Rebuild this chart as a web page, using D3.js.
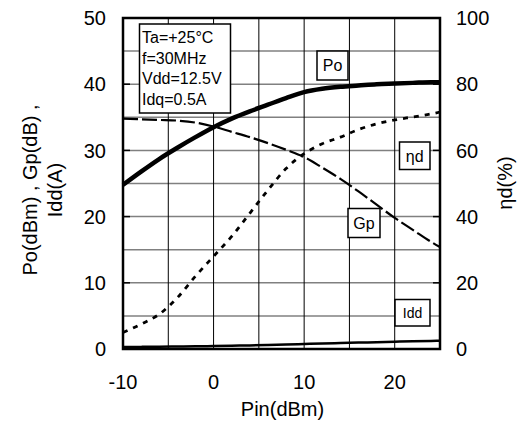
<!DOCTYPE html>
<html><head><meta charset="utf-8">
<script src="https://cdn.jsdelivr.net/npm/d3@7"></script>
<style>body{margin:0;background:#fff}svg{display:block}text{font-family:Arial,"Liberation Sans",sans-serif}</style>
</head><body><div id="c"></div>
<script>
const pin = [-10,-8,-6,-4,-2,0,2,4,6,8,10,12,14,16,18,20,22,24,25];
const po  = [24.8,26.8,28.7,30.4,32.0,33.5,34.8,35.9,36.9,37.9,38.8,39.3,39.6,39.8,40.0,40.1,40.2,40.3,40.3];
const gp  = [34.8,34.7,34.6,34.5,34.2,33.6,32.8,32.0,31.1,30.1,29.0,27.4,25.7,23.8,21.8,19.8,18.0,16.2,15.4];
const eta = [5,7.5,10.5,15.5,22,28,34,41,48,54.5,59,62,64,66.3,68,69.2,70.1,71,71.6];
const idd = [0.3,0.32,0.34,0.37,0.4,0.45,0.5,0.54,0.6,0.67,0.75,0.83,0.9,0.97,1.03,1.1,1.16,1.22,1.25];
const xTicks = [-10,0,10,20];
const yLeftTicks = [0,10,20,30,40,50];
const yRightTicks = [0,20,40,60,80,100];
const condText = ["Ta=+25°C","f=30MHz","Vdd=12.5V","Idq=0.5A"];

const W=525,H=427, L=123,R=440,T=18,B=349;
const svg=d3.select("#c").append("svg").attr("width",W).attr("height",H);
const x=d3.scaleLinear().domain([-10,25]).range([L,R]);
const y=d3.scaleLinear().domain([0,50]).range([B,T]);
const y2=d3.scaleLinear().domain([0,100]).range([B,T]);

// grid
const g=svg.append("g");
g.selectAll(".hg").data(d3.range(5,50,5)).join("line")
 .attr("x1",L).attr("x2",R).attr("y1",d=>y(d)).attr("y2",d=>y(d))
 .attr("stroke","#808080").attr("stroke-width",1.5);
g.selectAll(".vg").data(d3.range(-5,25,5)).join("line")
 .attr("y1",T).attr("y2",B).attr("x1",d=>x(d)).attr("x2",d=>x(d))
 .attr("stroke","#000").attr("stroke-width",1);
// inner ticks
g.selectAll(".lt").data(yLeftTicks).join("line")
 .attr("x1",L).attr("x2",L+7).attr("y1",d=>y(d)).attr("y2",d=>y(d)).attr("stroke","#000").attr("stroke-width",1.5);
g.selectAll(".rt").data(yRightTicks).join("line")
 .attr("x1",R-7).attr("x2",R).attr("y1",d=>y2(d)).attr("y2",d=>y2(d)).attr("stroke","#000").attr("stroke-width",1.5);

const line=(ys,sc)=>d3.line().x((d,i)=>x(pin[i])).y(d=>sc(d)).curve(d3.curveMonotoneX)(ys);
svg.append("path").attr("d",line(eta,y2)).attr("fill","none").attr("stroke","#000").attr("stroke-width",2.8).attr("stroke-dasharray","5,6");
svg.append("path").attr("d",line(gp,y)).attr("fill","none").attr("stroke","#000").attr("stroke-width",2.2).attr("stroke-dasharray","15,4");
svg.append("path").attr("d",line(idd,y)).attr("fill","none").attr("stroke","#000").attr("stroke-width",2.5);
svg.append("path").attr("d",line(po,y)).attr("fill","none").attr("stroke","#000").attr("stroke-width",4.5);

// border
svg.append("rect").attr("x",L).attr("y",T).attr("width",R-L).attr("height",B-T)
 .attr("fill","none").attr("stroke","#000").attr("stroke-width",2.5);

// axes labels
const fs=20;
svg.selectAll(".yl").data(yLeftTicks).join("text").attr("x",106).attr("y",d=>y(d)).attr("dy","0.36em")
 .attr("text-anchor","end").attr("font-size",fs).text(d=>d);
svg.selectAll(".yr").data(yRightTicks).join("text").attr("x",456).attr("y",d=>y2(d)).attr("dy","0.36em")
 .attr("text-anchor","start").attr("font-size",fs).text(d=>d);
svg.selectAll(".xl").data(xTicks).join("text").attr("x",d=>x(d)).attr("y",389)
 .attr("text-anchor","middle").attr("font-size",fs).text(d=>d);
svg.append("text").attr("x",(L+R)/2+1).attr("y",416).attr("text-anchor","middle").attr("font-size",fs).text("Pin(dBm)");
svg.append("text").attr("transform","translate(37,190) rotate(-90)").attr("text-anchor","middle").attr("font-size",fs).text("Po(dBm) , Gp(dB) ,");
svg.append("text").attr("transform","translate(62,190) rotate(-90)").attr("text-anchor","middle").attr("font-size",fs).text("Idd(A)");
svg.append("text").attr("transform","translate(512,183) rotate(-90)").attr("text-anchor","middle").attr("font-size",fs).text("ηd(%)");

// condition box
svg.append("rect").attr("x",139.5).attr("y",24).attr("width",91).attr("height",89).attr("fill","#fff").attr("stroke","#000").attr("stroke-width",1.5);
svg.selectAll(".ct").data(condText).join("text").attr("x",142).attr("y",(d,i)=>43+i*20.7).attr("font-size",16).text(d=>d);

// series label boxes
const labels=[
 {t:"Po",x:317,y:51,w:31,h:29,fs:16},
 {t:"ηd",x:399.5,y:142,w:30.5,h:27.5,fs:16},
 {t:"Gp",x:348,y:208.5,w:32,h:29,fs:16},
 {t:"Idd",x:395,y:299.5,w:35,h:26.5,fs:14}
];
const lg=svg.selectAll(".lb").data(labels).join("g");
lg.append("rect").attr("x",d=>d.x).attr("y",d=>d.y).attr("width",d=>d.w).attr("height",d=>d.h).attr("fill","#fff").attr("stroke","#000").attr("stroke-width",1.5);
lg.append("text").attr("x",d=>d.x+d.w/2).attr("y",d=>d.y+d.h/2).attr("dy","0.36em").attr("text-anchor","middle").attr("font-size",d=>d.fs).text(d=>d.t);
</script></body></html>
